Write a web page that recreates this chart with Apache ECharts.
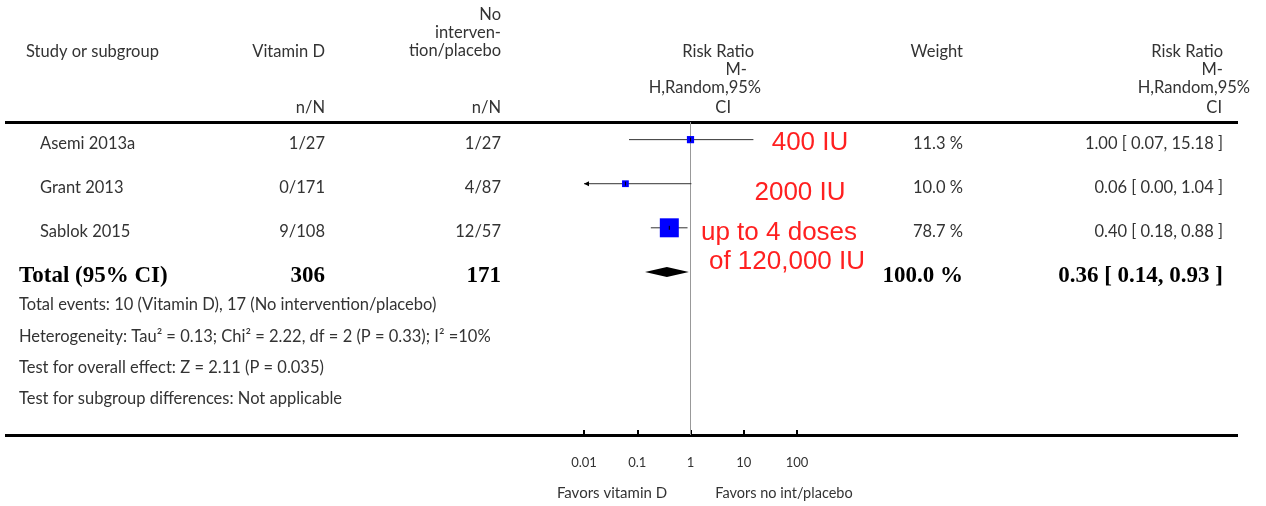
<!DOCTYPE html>
<html>
<head>
<meta charset="utf-8">
<script src="https://cdn.jsdelivr.net/npm/echarts@6/dist/echarts.min.js"></script>
<style>
  html, body { margin: 0; padding: 0; background: #fff; }
  #chart { width: 1266px; height: 506px; }
</style>
</head>
<body>
<div id="chart"></div>
<script>
// Study rows
const studies  = ['Asemi 2013a', 'Grant 2013', 'Sablok 2015'];
const vitaminD = ['1/27', '0/171', '9/108'];
const control  = ['1/27', '4/87', '12/57'];
const weights  = [11.3, 10.0, 78.7];
const rr       = [1.00, 0.06, 0.40];
const ciLower  = [0.07, 0.00, 0.18];
const ciUpper  = [15.18, 1.04, 0.88];
const doseNotes = ['400 IU', '2000 IU', 'up to 4 doses', 'of 120,000 IU'];

// Pooled estimate
const totalLabel = 'Total (95% CI)';
const totalVitaminD = '306';
const totalControl = '171';
const totalWeight = 100.0;
const totalRR = [0.36, 0.14, 0.93];

// Axis
const axisTicks = [0.01, 0.1, 1, 10, 100];
const tickLabels = ['0.01', '0.1', '1', '10', '100'];

const footerLines = [
  'Total events: 10 (Vitamin D), 17 (No intervention/placebo)',
  'Heterogeneity: Tau\u00b2 = 0.13; Chi\u00b2 = 2.22, df = 2 (P = 0.33); I\u00b2 =10%',
  'Test for overall effect: Z = 2.11 (P = 0.035)',
  'Test for subgroup differences: Not applicable'
];

const AX_MIN = axisTicks[0], AX_MAX = axisTicks[axisTicks.length - 1];
const BODY = '16.5px Lato, "Open Sans", sans-serif';
const BOLD = 'bold 23px "Liberation Serif", "DejaVu Serif", serif';
const TXT = '#333';

const fmtCI = (e, l, u) => e.toFixed(2) + ' [ ' + l.toFixed(2) + ', ' + u.toFixed(2) + ' ]';

const chart = echarts.init(document.getElementById('chart'));

const studyData = studies.map((s, i) => [rr[i], i, ciLower[i], ciUpper[i], weights[i]]);

// Confidence interval line, weighted square, and a left arrow when the CI runs off the axis
function renderStudy(params, api) {
  const row = api.value(1);
  const est = api.value(0), lo = api.value(2), hi = api.value(3), w = api.value(4);
  const pLo = api.coord([Math.max(lo, AX_MIN), row]);
  const pHi = api.coord([Math.min(hi, AX_MAX), row]);
  const pEst = api.coord([est, row]);
  const size = 2.14 * Math.sqrt(w);
  const children = [
    { type: 'line', shape: { x1: pLo[0], y1: pLo[1], x2: pHi[0], y2: pHi[1] },
      style: { stroke: '#333', lineWidth: 1 } },
    { type: 'rect', shape: { x: pEst[0] - size / 2, y: pEst[1] - size / 2, width: size, height: size },
      style: { fill: '#0000ff' } },
    { type: 'line', shape: { x1: pEst[0], y1: pEst[1] - 2, x2: pEst[0], y2: pEst[1] + 2 },
      style: { stroke: '#000', lineWidth: 1 } }
  ];
  if (lo < AX_MIN) {
    children.push({ type: 'polygon',
      shape: { points: [[pLo[0], pLo[1]], [pLo[0] + 5, pLo[1] - 2.5], [pLo[0] + 5, pLo[1] + 2.5]] },
      style: { fill: '#000' } });
  }
  return { type: 'group', children };
}

// Pooled estimate diamond spanning its CI
function renderDiamond(params, api) {
  const row = api.value(1);
  const pE = api.coord([api.value(0), row]);
  const pL = api.coord([api.value(2), row]);
  const pU = api.coord([api.value(3), row]);
  const h = 5;
  return { type: 'polygon',
    shape: { points: [[pL[0], pL[1]], [pE[0], pE[1] - h], [pU[0], pU[1]], [pE[0], pE[1] + h]] },
    style: { fill: '#000' } };
}

chart.setOption({
  animation: false,
  grid: { left: 584, width: 213, top: 122, height: 313 },
  xAxis: {
    type: 'log', logBase: 10, min: AX_MIN, max: AX_MAX,
    axisLine: { show: false, onZero: false },
    axisTick: { show: true, inside: true, length: 5, lineStyle: { color: '#000', width: 2 } },
    splitLine: { show: false },
    axisLabel: {
      margin: 21, color: TXT, fontSize: 13, fontFamily: 'Lato',
      formatter: v => {
        const k = axisTicks.findIndex(t => Math.abs(Math.log10(t) - Math.log10(v)) < 1e-6);
        return k >= 0 ? tickLabels[k] : '';
      }
    }
  },
  yAxis: { type: 'value', inverse: true, min: -0.4, max: 6.7, show: false },
  series: [
    { type: 'line', data: [[1, -0.4], [1, 6.7]], symbol: 'none',
      lineStyle: { color: '#999', width: 1 }, silent: true, z: 1 },
    { type: 'custom', data: studyData, renderItem: renderStudy,
      encode: { x: 0, y: 1 }, clip: false, z: 3 },
    { type: 'custom', data: [[totalRR[0], studies.length, totalRR[1], totalRR[2]]],
      renderItem: renderDiamond, encode: { x: 0, y: 1 }, clip: false, z: 3 }
  ]
});

// Table text, placed on the same row scale as the marks
const rowY = i => chart.convertToPixel({ yAxisIndex: 0 }, i) + 4;
const txt = (text, x, y, align, font, fill) => ({
  type: 'text', silent: true,
  style: { text, x, y, align: align || 'left', verticalAlign: 'middle', font: font || BODY, fill: fill || TXT }
});

const g = [];
// Rules
g.push({ type: 'rect', shape: { x: 5, y: 121, width: 1233, height: 3 }, style: { fill: '#000' } });
g.push({ type: 'rect', shape: { x: 5, y: 434, width: 1233, height: 3 }, style: { fill: '#000' } });

// Header
g.push(txt('Study or subgroup', 26, 52));
g.push(txt('Vitamin D', 325, 52, 'right'));
g.push(txt('No', 501, 15, 'right'));
g.push(txt('interven-', 501, 33, 'right'));
g.push(txt('tion/placebo', 501, 51, 'right'));
g.push(txt('n/N', 325, 108, 'right'));
g.push(txt('n/N', 501, 108, 'right'));
g.push(txt('Risk Ratio', 754, 52, 'right'));
g.push(txt('M-', 747, 70, 'right'));
g.push(txt('H,Random,95%', 761, 88, 'right'));
g.push(txt('CI', 731, 108, 'right'));
g.push(txt('Weight', 963, 52, 'right'));
g.push(txt('Risk Ratio', 1223, 52, 'right'));
g.push(txt('M-', 1223, 70, 'right'));
g.push(txt('H,Random,95%', 1250, 88, 'right'));
g.push(txt('CI', 1222, 108, 'right'));

// Study rows
studies.forEach((s, i) => {
  const y = rowY(i);
  g.push(txt(s, 40, y));
  g.push(txt(vitaminD[i], 325, y, 'right'));
  g.push(txt(control[i], 501, y, 'right'));
  g.push(txt(weights[i].toFixed(1) + ' %', 963, y, 'right'));
  g.push(txt(fmtCI(rr[i], ciLower[i], ciUpper[i]), 1223, y, 'right'));
});

// Total row
const ty = rowY(studies.length);
g.push(txt(totalLabel, 19, ty, 'left', BOLD, '#000'));
g.push(txt(totalVitaminD, 325, ty, 'right', BOLD, '#000'));
g.push(txt(totalControl, 501, ty, 'right', BOLD, '#000'));
g.push(txt(totalWeight.toFixed(1) + ' %', 963, ty, 'right', BOLD, '#000'));
g.push(txt(fmtCI(totalRR[0], totalRR[1], totalRR[2]), 1223, ty, 'right', BOLD, '#000'));

// Footer notes
[305, 337, 368, 399].forEach((y, i) => g.push(txt(footerLines[i], 19, y)));

// Favours labels under the axis
g.push(txt('Favors vitamin D', 612, 493, 'center', '15px Lato, sans-serif'));
g.push(txt('Favors no int/placebo', 784, 493, 'center', '14.5px Lato, sans-serif'));

// Dose annotations
const RED = '26px "Liberation Sans", Arial, sans-serif';
[[810, 143], [800, 193], [779, 233], [787, 262]].forEach((p, i) =>
  g.push(txt(doseNotes[i], p[0], p[1], 'center', RED, '#ff2020')));

chart.setOption({ graphic: g });
</script>
</body>
</html>
